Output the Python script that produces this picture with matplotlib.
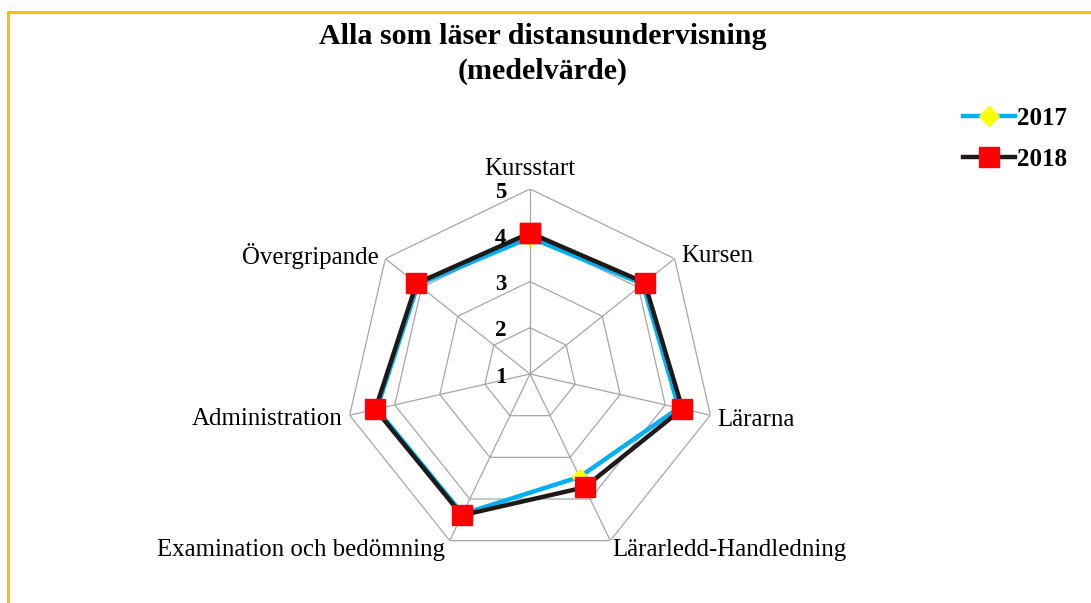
import numpy as np
import matplotlib
matplotlib.use("Agg")
import matplotlib.pyplot as plt
from matplotlib.lines import Line2D

plt.rcParams['font.family'] = ['Liberation Serif', 'DejaVu Serif']

categories = ["Kursstart", "Kursen", "Lärarna", "Lärarledd-Handledning",
              "Examination och bedömning", "Administration", "Övergripande"]
values_2017 = [3.95, 4.12, 4.30, 3.47, 4.36, 4.40, 4.10]
values_2018 = [4.05, 4.17, 4.38, 3.72, 4.39, 4.43, 4.14]
series_labels = ["2017", "2018"]
tick_values = [1, 2, 3, 4, 5]

W, H = 1091, 603
fig = plt.figure(figsize=(W / 100, H / 100), dpi=100)
fig.patch.set_facecolor('white')

# gold border (top and left)
fig.add_artist(Line2D([8 / W, 8 / W], [0, 1 - 12 / H], transform=fig.transFigure,
                      color='#FFC000', lw=2.2))
fig.add_artist(Line2D([8 / W, 1], [1 - 12 / H, 1 - 12 / H], transform=fig.transFigure,
                      color='#FFC000', lw=2.2))

fig.text(543 / W, 1 - 36 / H, "Alla som läser distansundervisning", ha='center', va='center',
         fontsize=21.6, fontweight='bold')
fig.text(543 / W, 1 - 71 / H, "(medelvärde)", ha='center', va='center',
         fontsize=21.6, fontweight='bold')

cx, cy, R = 530, 374, 185
ax = fig.add_axes([(cx - R) / W, (H - cy - R) / H, 2 * R / W, 2 * R / H], projection='polar')
ax.set_theta_offset(np.pi / 2)
ax.set_theta_direction(-1)
ax.set_ylim(1, 5)
ax.grid(False)
ax.spines['polar'].set_visible(False)
ax.set_xticks([])
ax.set_yticks([])
ax.patch.set_alpha(0)

n = len(categories)
angles = np.linspace(0, 2 * np.pi, n, endpoint=False)
ang_c = np.concatenate([angles, angles[:1]])

grid_color = '#A6A6A6'
for t in tick_values[1:]:
    ax.plot(ang_c, [t] * (n + 1), color=grid_color, lw=0.9, zorder=1)
for a in angles:
    ax.plot([a, a], [1, 5], color=grid_color, lw=0.9, zorder=1)

v17 = np.concatenate([values_2017, values_2017[:1]])
v18 = np.concatenate([values_2018, values_2018[:1]])
ax.plot(ang_c, v17, color='#00B0F0', lw=3.2, marker='D', markersize=8,
        markerfacecolor='#FFFF00', markeredgecolor='#FFFF00', zorder=3, clip_on=False)
ax.plot(ang_c, v18, color='#1F1A17', lw=3.2, marker='s', markersize=14,
        markerfacecolor='#FF0000', markeredgecolor='#FF0000', zorder=4, clip_on=False)

# tick labels
for t in tick_values:
    ax.annotate(str(t), xy=(0, t), xycoords='data', xytext=(-21, -2.2),
                textcoords='offset points', ha='center', va='center',
                fontsize=16.5, fontweight='bold', zorder=5, annotation_clip=False)

# category labels
p = 100 / 72
label_pos = [
    ((0, 9 / p), 'center', 'bottom'),
    ((7 / p, 3 / p), 'left', 'center'),
    ((7 / p, -5 / p), 'left', 'center'),
    ((2 / p, -9 / p), 'left', 'center'),
    ((-5 / p, -9 / p), 'right', 'center'),
    ((-7 / p, -4 / p), 'right', 'center'),
    ((-7 / p, 3 / p), 'right', 'center'),
]
for a, cat, (off, ha, va) in zip(angles, categories, label_pos):
    ax.annotate(cat, xy=(a, 5), xycoords='data', xytext=off, textcoords='offset points',
                ha=ha, va=va, fontsize=17.9, annotation_clip=False)

handles = [
    Line2D([], [], color='#00B0F0', lw=3.2, marker='D', markersize=10,
           markerfacecolor='#FFFF00', markeredgecolor='#FFFF00'),
    Line2D([], [], color='#1F1A17', lw=3.2, marker='s', markersize=14,
           markerfacecolor='#FF0000', markeredgecolor='#FF0000'),
]
leg = fig.legend(handles, series_labels, loc='center left',
                 bbox_to_anchor=(940 / W, 1 - 139 / H), frameon=False,
                 prop={'size': 18, 'weight': 'bold'}, handlelength=2.1,
                 handletextpad=0.1, labelspacing=0.7)

fig.savefig("out.png", dpi=100, facecolor='white')
